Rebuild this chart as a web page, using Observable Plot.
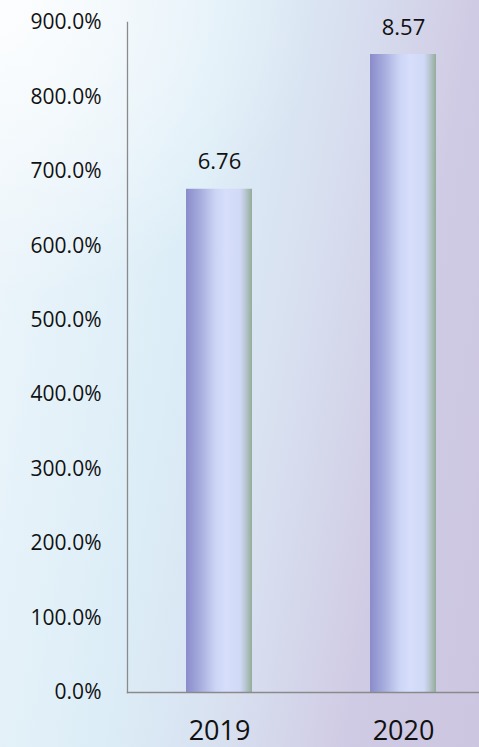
<!DOCTYPE html>
<html>
<head>
<meta charset="utf-8">
<script src="https://cdn.jsdelivr.net/npm/d3@7"></script>
<script src="https://cdn.jsdelivr.net/npm/@observablehq/plot@0.6"></script>
<style>
  html, body { margin: 0; padding: 0; }
  #chart {
    width: 479px; height: 747px; overflow: hidden; position: relative;
    background:
      radial-gradient(ellipse 320px 300px at 0% 0%, rgba(255,255,255,0.85), rgba(255,255,255,0) 100%),
      linear-gradient(100deg, #eef6fb 0%, #dcedf7 38%, #d8e0f0 58%, #d0cbe4 78%, #ccc6e1 100%);
  }
  #chart svg { background: transparent; display: block; }
</style>
</head>
<body>
<div id="chart"></div>
<script>
const years = ["2019", "2020"];
const values = [6.76, 8.57];
const yTicks = [0, 1, 2, 3, 4, 5, 6, 7, 8, 9];

const data = years.map((y, i) => ({year: y, value: values[i]}));

const gradientDefs = () => {
  const defs = d3.create("svg:defs");
  const g = defs.append("linearGradient").attr("id", "barGrad")
    .attr("x1", "0").attr("y1", "0").attr("x2", "1").attr("y2", "0");
  [[0, "#8a8ccb"], [0.2, "#a4aadc"], [0.45, "#cdd5f6"], [0.6, "#d6defc"], [0.82, "#d0d9f6"], [0.9, "#b9c6d3"], [1, "#93ad98"]]
    .forEach(([o, c]) => g.append("stop").attr("offset", o).attr("stop-color", c));
  return defs.node();
};

const chart = Plot.plot({
  width: 479,
  height: 747,
  marginTop: 22,
  marginBottom: 55,
  marginLeft: 127,
  marginRight: 0,
  style: {background: "transparent", fontFamily: "Open Sans", color: "#111"},
  x: {domain: years, range: [127, 495], paddingInner: 0.64, paddingOuter: 0.32},
  y: {domain: [0, 9]},
  marks: [
    gradientDefs,
    Plot.barY(data, {x: "year", y: "value", fill: "url(#barGrad)"}),
    Plot.frame({anchor: "left", stroke: "#8a8a8a", strokeWidth: 1.3}),
    Plot.frame({anchor: "bottom", stroke: "#8a8a8a", strokeWidth: 1.3}),
    Plot.axisY({ticks: yTicks, tickSize: 0, tickPadding: 26, fontSize: 21,
      tickFormat: d => (d * 100).toFixed(1) + "%", label: null}),
    Plot.axisX({tickSize: 0, tickPadding: 28, fontSize: 27, label: null}),
    Plot.text(data, {x: "year", y: "value", text: d => d.value.toFixed(2), dy: -27, fontSize: 22, fill: "#111"})
  ]
});
document.getElementById("chart").appendChild(chart);
</script>
</body>
</html>
